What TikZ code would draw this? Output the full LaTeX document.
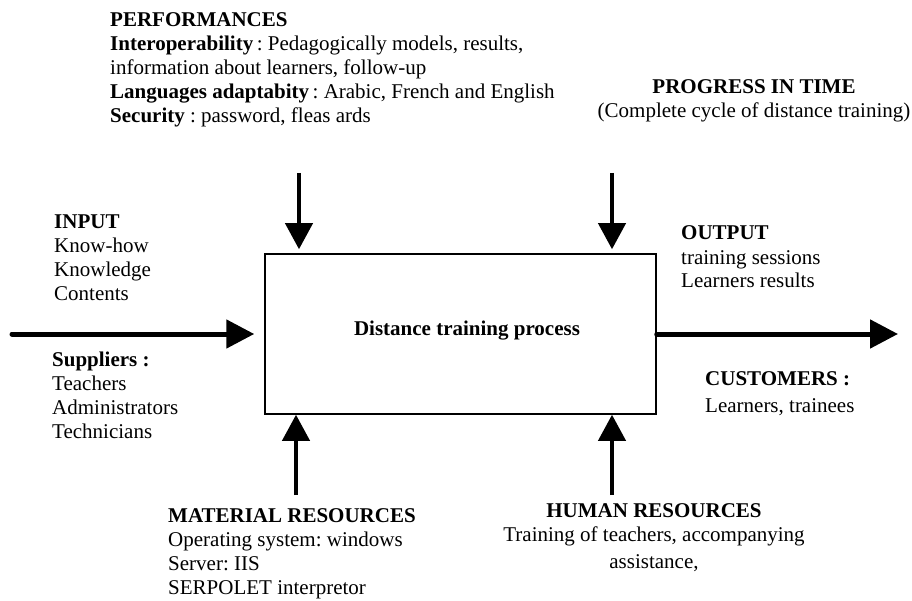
\documentclass[tikz,border=0pt]{standalone}
\usepackage{fontspec}
\setmainfont{Liberation Serif}
\usetikzlibrary{arrows.meta}
\frenchspacing
\begin{document}
\begin{tikzpicture}[x=1pt, y=-1pt,
		txt/.style={font=\fontsize{21}{24}\selectfont, inner sep=0pt, align=left},
		flow/.style={line width=5pt, line cap=round, -{Triangle[length=28pt,width=28pt]}},
		feed/.style={line width=4pt, -{Triangle[length=26pt,width=27pt]}}]
		\useasboundingbox (0,0) rectangle (912,601);

		% Define the process box
		\node[draw, line width=1.5pt, minimum width=391pt, minimum height=160pt, inner sep=0pt] (proc) at (460.5,334) {};
		\node[txt, font=\fontsize{21}{24}\selectfont\bfseries, anchor=base] (proclabel) at (467,335) {Distance training process};

		% Define the free ends of the arrows
		\coordinate (inbeg) at (12,334);
		\coordinate (outend) at (898,334);
		\coordinate (perf) at (299,173);
		\coordinate (time) at (612,173);
		\coordinate (mat) at (296,495);
		\coordinate (hum) at (612,495);

		% Define the arrows
		\draw[flow, shorten >=10pt] (inbeg) -- (proc.west);
		\draw[flow] (proc.east) -- (outend);
		\draw[feed, shorten >=4pt] (perf) -- (perf |- proc.north);
		\draw[feed, shorten >=4pt] (time) -- (time |- proc.north);
		\draw[feed] (mat) -- (mat |- proc.south);
		\draw[feed] (hum) -- (hum |- proc.south);

		% Define the texts (anchored at the baseline of their last line)
		\node[txt, anchor=base west] (perftext) at (110,123) {\textbf{PERFORMANCES}\\
			\textbf{Interoperability}\,: Pedagogically models, results,\\
			information about learners, follow-up\\
			\textbf{Languages adaptabity}\,: Arabic, French and English\\
			\textbf{Security} : password, fleas ards};
		\node[txt, align=center, anchor=base] (timetext) at (754,118) {\textbf{PROGRESS IN TIME}\\
			(Complete cycle of distance training)};
		\node[txt, anchor=base west] (intext) at (54,301) {\textbf{INPUT}\\Know-how\\Knowledge\\Contents};
		\node[txt, anchor=base west] (supptext) at (52,438) {\textbf{Suppliers :}\\Teachers\\Administrators\\Technicians};
		\node[txt, anchor=base west] (outtext) at (681,288) {\textbf{OUTPUT}\\training sessions\\Learners results};
		\node[txt, anchor=base west] (custtext) at (705,412) {\textbf{CUSTOMERS :}\\[3pt]Learners, trainees};
		\node[txt, anchor=base west] (mattext) at (168,594) {\textbf{MATERIAL RESOURCES}\\Operating system: windows\\Server: IIS\\SERPOLET interpretor};
		\node[txt, align=center, anchor=base] (humtext) at (654,568) {\textbf{HUMAN RESOURCES}\\
			Training of teachers, accompanying\\[3pt]assistance,};
	\end{tikzpicture}
\end{document}
